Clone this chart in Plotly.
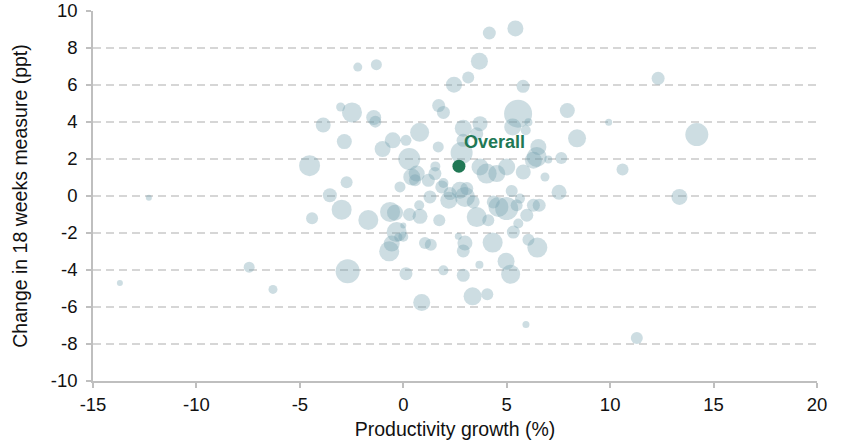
import plotly.graph_objects as go

# Productivity growth (%) for each provider
prod_growth = [
    -12.3, -13.7, -7.45, -6.3, -2.2, -1.3, 4.16, 5.42, 3.68, 3.14,
    2.45, 5.79, 12.32, -3.03, -2.48, -3.87, -1.43, -1.35, 1.71, 1.94,
    5.55, 6.05, 5.29, 5.92, 3.71, 3.55, 2.9, 2.89, 0.79, 0.13,
    -0.51, -1.0, -2.85, 1.69, 2.82, 0.29, -4.53, 6.53, 6.45, 7.01,
    7.93, 9.93, 14.19, 8.4, 7.64, 10.6, 6.85, 7.53, 13.35, 11.29,
    -2.74, -3.55, -2.98, -4.41, -0.16, 0.41, 0.57, 1.55, 1.53, 1.21,
    1.94, 2.26, 2.74, 3.07, 3.71, 4.03, 4.52, 5.0, 5.8, 6.29,
    5.24, 6.57, 3.55, 4.11, 4.6, 5.0, 5.48, 6.29, 5.97, 5.56,
    5.32, 6.05, 6.48, 4.32, 2.98, 2.9, 2.66, 1.05, 1.33, 1.74,
    0.81, 0.77, 0.3, 1.94, 2.9, 3.68, 4.97, 5.19, 3.35, 4.06,
    0.89, 5.93, -1.69, -0.64, -0.4, -0.32, 0.0, -0.24, 0.0, -0.56,
    -0.68, -2.69, 0.13, 2.98, 2.2, 1.86, 3.38, 4.35, 5.64, 0.65,
    1.29,
]
# Change in 18 weeks measure (ppt)
change_18wk = [
    -0.1, -4.7, -3.85, -5.05, 6.97, 7.1, 8.81, 9.06, 7.28, 6.4,
    6.02, 5.93, 6.36, 4.81, 4.52, 3.84, 4.24, 4.02, 4.89, 4.52,
    4.45, 3.98, 3.73, 3.55, 3.91, 3.37, 3.66, 3.01, 3.44, 3.01,
    3.01, 2.54, 2.94, 2.65, 2.33, 2.0, 1.64, 2.65, 2.11, 1.97,
    4.62, 3.98, 3.32, 3.12, 2.05, 1.43, 1.03, 0.2, -0.05, -7.67,
    0.74, 0.04, -0.74, -1.2, 0.49, 1.03, 0.85, 1.6, 1.21, 0.85,
    0.7, 0.13, 0.31, 0.4, 1.57, 1.21, 1.21, 1.57, 1.3, 1.93,
    0.27, -0.5, -1.14, -1.31, -0.59, -0.68, -0.5, -0.5, -1.04, -1.49,
    -1.95, -2.36, -2.79, -2.52, -2.54, -2.97, -2.18, -2.54, -2.63, -1.31,
    -1.1, -0.5, -1.0, -4.02, -4.29, -3.71, -3.53, -4.23, -5.42, -5.31,
    -5.76, -6.95, -1.3, -0.86, -0.9, -1.95, -2.2, -2.23, -1.6, -2.57,
    -2.99, -4.07, -4.2, -0.05, -0.23, 0.49, -0.32, -0.32, -0.14, 1.21,
    -0.05,
]
# Relative provider size (bubble weight)
weights = [
    6, 6, 11, 9, 9, 11, 13, 16, 17, 12,
    16, 13, 13, 9, 20, 15, 15, 12, 13, 13,
    28, 8, 17, 10, 15, 13, 17, 13, 19, 11,
    16, 16, 15, 11, 22, 22, 21, 16, 20, 8,
    15, 7, 23, 18, 12, 12, 9, 15, 16, 12,
    12, 14, 20, 12, 11, 17, 12, 10, 13, 13,
    10, 13, 17, 13, 17, 20, 17, 17, 15, 17,
    12, 13, 20, 12, 20, 23, 12, 13, 13, 10,
    13, 12, 20, 20, 15, 13, 7, 12, 12, 12,
    15, 10, 13, 10, 13, 8, 17, 19, 18, 12,
    17, 7, 20, 20, 16, 20, 10, 8, 6, 16,
    20, 24, 13, 20, 17, 13, 13, 13, 10, 16,
    13,
]

overall_x = [2.69]
overall_y = [1.61]
overall_label = "Overall"

x_ticks = [-15, -10, -5, 0, 5, 10, 15, 20]
y_ticks = [-10, -8, -6, -4, -2, 0, 2, 4, 6, 8, 10]

FONT = "Liberation Sans, Arial, sans-serif"
GREEN = "rgb(33,120,85)"

fig = go.Figure()
fig.add_trace(go.Scatter(
    x=prod_growth, y=change_18wk, mode="markers",
    marker=dict(size=weights, sizemode="diameter", sizeref=1,
                color="rgba(113,159,171,0.5)", line=dict(width=0)),
    showlegend=False, hoverinfo="x+y",
))
fig.add_trace(go.Scatter(
    x=overall_x, y=overall_y, mode="markers",
    marker=dict(size=13, color=GREEN, line=dict(width=0)),
    showlegend=False,
))
fig.add_annotation(
    x=overall_x[0] + 0.15, y=overall_y[0] + 1.3, text="<b>" + overall_label + "</b>",
    showarrow=False, xanchor="left", yanchor="middle",
    font=dict(family=FONT, size=18, color=GREEN),
)

fig.update_layout(
    width=848, height=445,
    margin=dict(l=93, r=31, t=11, b=64),
    paper_bgcolor="white", plot_bgcolor="white",
    font=dict(family=FONT, size=18.5, color="#111111"),
)
fig.update_xaxes(
    range=[-15, 20], tickvals=x_ticks, ticktext=[str(v) for v in x_ticks],
    showgrid=False, zeroline=False, automargin=False,
    showline=True, linecolor="#bfbfbf", linewidth=1.5,
    ticks="outside", ticklen=5, tickcolor="#bfbfbf", tickwidth=1.5,
    ticklabelstandoff=1,
    title=dict(text="Productivity growth (%)", font=dict(size=19.5), standoff=8),
    tickfont=dict(size=18.5),
)
fig.update_yaxes(
    range=[-10, 10], tickvals=y_ticks, ticktext=[str(v) for v in y_ticks],
    showgrid=True, gridcolor="#d6d6d6", automargin=False,
    gridwidth=1.5, griddash="8px,5px", zeroline=False,
    showline=True, linecolor="#bfbfbf", linewidth=1.5,
    ticks="outside", ticklen=5, tickcolor="#bfbfbf", tickwidth=1.5,
    ticklabelstandoff=5,
    title=dict(text="Change in 18 weeks measure (ppt)", font=dict(size=19.5), standoff=18),
    tickfont=dict(size=18.5),
)

fig.write_html("out.html", config={"displayModeBar": False})
